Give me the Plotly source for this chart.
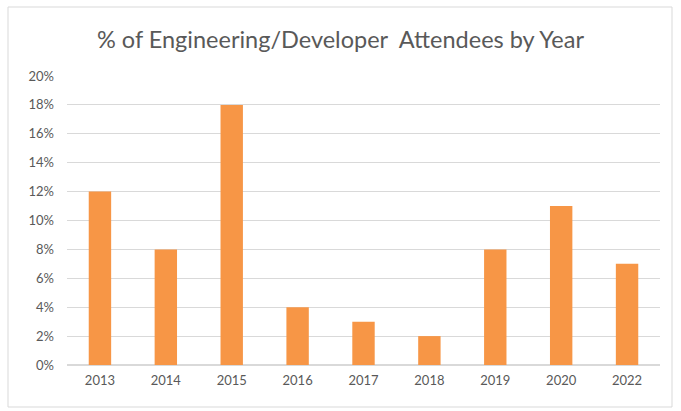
import plotly.graph_objects as go

years = ["2013", "2014", "2015", "2016", "2017", "2018", "2019", "2020", "2022"]
values = [0.12, 0.08, 0.18, 0.04, 0.03, 0.02, 0.08, 0.11, 0.07]
tick_vals = [0, 0.02, 0.04, 0.06, 0.08, 0.10, 0.12, 0.14, 0.16, 0.18, 0.20]

W, H = 681, 411
L, R, T, B = 67, 21, 76, 46
pw, ph = W - L - R, H - T - B

def px_x(x):
    return (x - L) / pw

def px_y(y):
    return (H - B - y) / ph

fig = go.Figure(go.Bar(x=years, y=values, marker_color="#F79646", marker_line_width=0))

fig.update_layout(
    width=W, height=H,
    margin=dict(l=L, r=R, t=T, b=B),
    paper_bgcolor="white", plot_bgcolor="white",
    bargap=0.66,
    font=dict(family="Lato, Carlito, sans-serif", color="#595959", size=12),
    title=dict(text="% of Engineering/Developer  Attendees by Year", x=0.5, xanchor="center",
               y=1 - 40 / H, yanchor="middle",
               font=dict(size=23.5, color="#595959", family="Lato, sans-serif")),
    xaxis=dict(showgrid=False, showline=False, ticks="", ticklabelstandoff=6,
               tickfont=dict(size=13, color="#595959")),
    yaxis=dict(range=[0, 0.20], tickvals=tick_vals, tickformat=".0%", showgrid=True,
               gridcolor="#D9D9D9", gridwidth=1, zeroline=True, zerolinecolor="#D9D9D9",
               showline=False, ticks="", ticklabelstandoff=12,
               tickfont=dict(size=13, color="#595959")),
    shapes=[dict(type="rect", xref="paper", yref="paper",
                 x0=px_x(8), x1=px_x(672), y0=px_y(407), y1=px_y(7),
                 line=dict(color="#D9D9D9", width=1), fillcolor="rgba(0,0,0,0)", layer="below")],
    showlegend=False,
)

fig.write_html("out.html", config={"displayModeBar": False},
               post_script="document.body.style.margin='0';document.body.style.overflow='hidden';")
